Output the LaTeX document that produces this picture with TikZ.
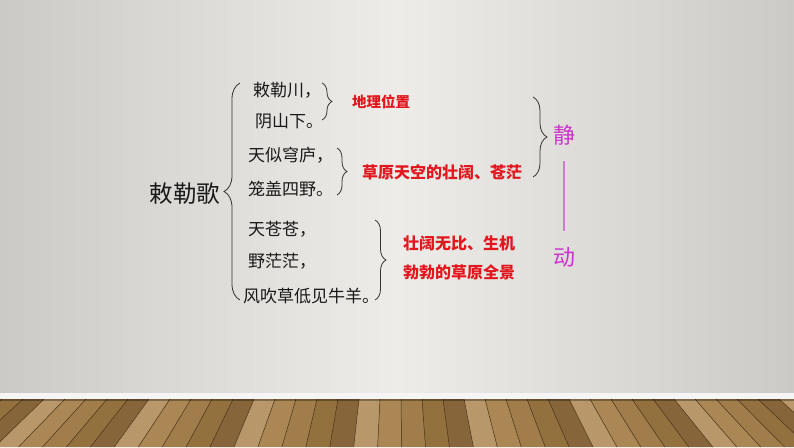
\documentclass[tikz,border=0pt]{standalone}
\usepackage{fontspec}
\newfontfamily\cjk{Noto Sans CJK SC}
\usetikzlibrary{decorations.pathreplacing}
\definecolor{redtxt}{HTML}{E3161E}
\definecolor{magtxt}{HTML}{CC33CC}
\definecolor{magline}{HTML}{D27AD4}
\definecolor{wallside}{HTML}{CCCAC6}
\definecolor{wallmid}{HTML}{EDECE8}
\definecolor{floorbase}{HTML}{9E7C4C}
\definecolor{plank0}{HTML}{AA8755}
\definecolor{plank1}{HTML}{93713F}
\definecolor{plank2}{HTML}{B8976A}
\definecolor{plank3}{HTML}{A07D4B}
\definecolor{plank4}{HTML}{86653A}
\definecolor{plankline}{HTML}{4A3218}
\begin{document}
\begin{tikzpicture}[x=1pt,y=-1pt,
  poem/.style={font=\cjk\fontsize{17}{17}\selectfont, anchor=west, inner sep=0pt, text=black!90},
  note/.style={font=\cjk\bfseries\fontsize{16}{16}\selectfont, anchor=west, inner sep=0pt, text=redtxt},
  title/.style={font=\cjk\fontsize{23.5}{23.5}\selectfont, inner sep=0pt, text=black!90},
  mag/.style={font=\cjk\fontsize{22}{22}\selectfont, inner sep=0pt, text=magtxt},
  bracestyle/.style={draw=black!80, line width=0.8pt, decorate, decoration={brace, amplitude=#1}}
]
\useasboundingbox (0,0) rectangle (794,447);
% wall
\shade[left color=wallside, right color=wallside, middle color=wallmid] (0,0) rectangle (794,397);
\fill[white!92!gray] (0,393) rectangle (794,399);
% floor
\fill[floorbase] (0,399) rectangle (794,447);
\foreach \i in {0,...,42} {
  \pgfmathsetmacro\xa{-40+\i*21}
  \pgfmathsetmacro\xb{\xa+21}
  \pgfmathsetmacro\xc{397+(\xb-397)*1.14}
  \pgfmathsetmacro\xd{397+(\xa-397)*1.14}
  \pgfmathtruncatemacro\k{mod(\i*3,5)}
  \fill[plank\k] (\xa,399) -- (\xb,399) -- (\xc,447) -- (\xd,447) -- cycle;
  \draw[plankline, line width=0.5pt] (\xa,399) -- (\xd,447);
}
\fill[black, opacity=0.3] (0,399) rectangle (794,401);

% title
\node[title] (t) at (185,194) {敕勒歌};
% poem lines
\node[poem] (l1) at (253,90) {敕勒川，};
\node[poem] (l2) at (255,121) {阴山下。};
\node[poem] (l3) at (248,155) {天似穹庐，};
\node[poem] (l4) at (248,189) {笼盖四野。};
\node[poem] (l5) at (248,229) {天苍苍，};
\node[poem] (l6) at (248,261) {野茫茫，};
\node[poem] (l7) at (243,296) {风吹草低见牛羊。};
% notes
\node[note, font=\cjk\bfseries\fontsize{14.5}{14.5}\selectfont] (n1) at (352,102) {地理位置};
\node[note] (n2) at (362,172) {草原天空的壮阔、苍茫};
\node[note] (n3) at (403,243) {壮阔无比、生机};
\node[note] (n4) at (403,272) {勃勃的草原全景};
\node[mag] (s) at (564,135) {静};
\node[mag] (d) at (564,257) {动};

% braces
\coordinate (B0a) at (240,300); \coordinate (B0b) at (240,83);
\draw[bracestyle=16] (B0a) -- (B0b);
\coordinate (B1a) at (322,83); \coordinate (B1b) at (322,120);
\draw[bracestyle=10] (B1a) -- (B1b);
\coordinate (B2a) at (337,148); \coordinate (B2b) at (337,195);
\draw[bracestyle=10] (B2a) -- (B2b);
\coordinate (B3a) at (375,220); \coordinate (B3b) at (375,300);
\draw[bracestyle=11] (B3a) -- (B3b);
\coordinate (B4a) at (533,97); \coordinate (B4b) at (533,177);
\draw[bracestyle=14] (B4a) -- (B4b);
% link
\draw[magline, line width=1.2pt] ([yshift=-16pt]s.south) -- ([yshift=16pt]d.north);
\end{tikzpicture}
\end{document}
